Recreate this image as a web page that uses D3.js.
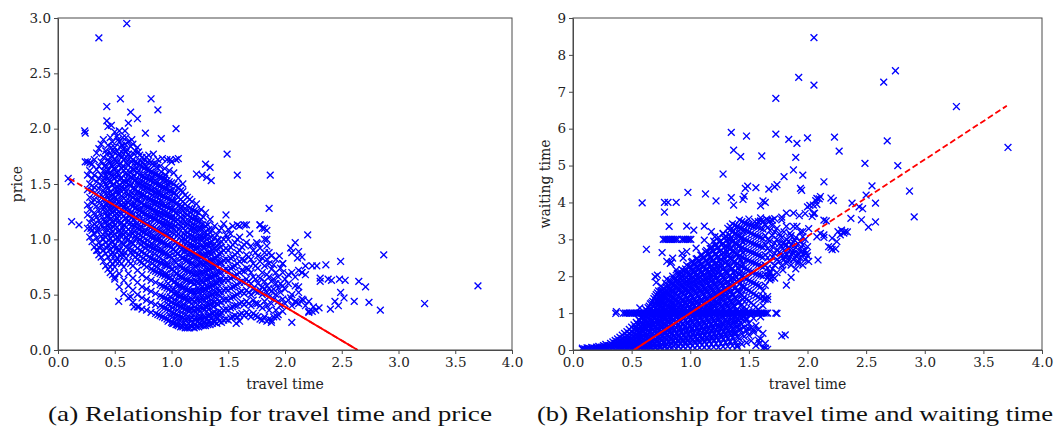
<!DOCTYPE html>
<html><head><meta charset="utf-8">
<script src="https://cdn.jsdelivr.net/npm/d3@7"></script>
<style>body{margin:0;background:#fff}svg{display:block}</style>
</head><body>
<svg id="c" width="1058" height="433"></svg>
<script>
// ---------- DATA ----------
const xTicks = [0.0,0.5,1.0,1.5,2.0,2.5,3.0,3.5,4.0];
const priceTicks = [0.0,0.5,1.0,1.5,2.0,2.5,3.0];
const waitTicks = [0,1,2,3,4,5,6,7,8,9];
const captions = ["(a) Relationship for travel time and price","(b) Relationship for travel time and waiting time"];
const axisLabels = ["travel time","price","waiting time"];

// fitted lines: endpoints and solid section
const priceFitX = [0.10, 2.64], priceFitY = [1.55, 0.0], priceFitSolid = [0.27, 2.64];
const waitFitX = [0.52, 3.70], waitFitY = [0.0, 6.62], waitFitSolid = [0.52, 1.72];

// travel time vs price: scattered points [travel, price]
const priceOutliers = [[0.606,2.95],[0.36,2.82],[0.55,2.27],[0.82,2.27],[0.43,2.20],[0.88,2.17],[0.64,2.15],[0.70,2.09],[0.43,2.07],[0.47,2.03],[1.04,2.00],[0.235,1.98],[0.24,1.96],[0.77,1.96],[0.91,1.91],[0.59,1.98],[0.54,1.98],[0.57,1.92],[0.62,2.05],[1.06,1.73],[0.99,1.72],[1.49,1.77],[1.30,1.68],[1.22,1.59],[1.31,1.56],[1.34,1.65],[1.35,1.53],[1.27,1.58],[1.58,1.58],[1.87,1.58],[1.86,1.28],[0.09,1.55],[0.115,1.52],[0.12,1.16],[0.185,1.13],[0.24,1.70],[0.28,1.69],[0.29,1.10],[0.34,1.08],[0.36,0.93],[0.35,0.90],[0.46,0.75],[0.50,0.66],[0.535,0.44],[0.64,0.48],[0.67,0.39],[0.71,0.39],[2.20,1.04],[2.09,0.97],[2.12,0.89],[2.15,0.84],[2.87,0.86],[2.49,0.80],[3.70,0.58],[3.23,0.42],[2.84,0.36],[2.74,0.43],[2.71,0.57],[2.65,0.62],[2.53,0.63],[2.41,0.63],[2.31,0.65],[2.31,0.62],[2.61,0.44],[2.49,0.52],[2.52,0.47],[2.44,0.44],[2.40,0.37],[2.25,0.39],[2.24,0.35],[2.36,0.77],[2.28,0.76],[2.24,0.76],[2.18,0.76],[2.11,0.83],[2.12,0.57],[2.38,0.64],[2.48,0.64],[2.47,0.40],[2.30,0.38],[2.27,0.36],[2.06,0.25],[1.60,0.26],[1.57,0.24],[1.78,1.13],[1.82,1.10],[1.84,1.00],[1.75,0.97],[1.98,0.78],[2.05,0.92],[1.95,0.85],[2.15,0.70],[2.05,0.47],[2.10,0.43],[2.16,0.45],[2.21,0.35],[1.93,0.30],[1.88,0.27],[1.66,1.13],[1.60,1.12],[1.69,1.05]];

// dense cloud: [travel, [prices at that travel time]]
const priceCloud = [
[0.26,[1.10,1.22,1.31,1.45,1.58,1.70]],
[0.28,[1.02,1.15,1.27,1.38,1.50,1.62]],
[0.30,[0.98,1.08,1.19,1.33,1.44,1.55,1.68]],
[0.32,[0.93,1.05,1.14,1.24,1.36,1.47,1.58,1.72]],
[0.34,[0.90,1.01,1.12,1.20,1.30,1.41,1.52,1.63,1.78]],
[0.36,[0.86,0.97,1.08,1.17,1.26,1.35,1.46,1.55,1.66,1.82]],
[0.38,[0.84,0.94,1.03,1.13,1.22,1.31,1.40,1.49,1.58,1.70,1.86]],
[0.40,[0.80,0.90,1.00,1.10,1.18,1.27,1.36,1.44,1.53,1.62,1.74,1.90]],
[0.42,[0.76,0.87,0.97,1.06,1.15,1.24,1.32,1.41,1.50,1.58,1.67,1.80]],
[0.44,[0.73,0.84,0.95,1.04,1.12,1.21,1.29,1.38,1.46,1.55,1.63,1.72,1.85,2.02]],
[0.46,[0.70,0.80,0.91,1.01,1.10,1.18,1.27,1.35,1.43,1.52,1.60,1.69,1.78,1.92]],
[0.48,[0.68,0.78,0.88,0.98,1.07,1.16,1.24,1.32,1.41,1.49,1.57,1.66,1.75,1.88]],
[0.50,[0.64,0.75,0.86,0.95,1.05,1.13,1.22,1.30,1.38,1.46,1.55,1.63,1.72,1.83,1.97]],
[0.52,[0.83,0.93,1.02,1.11,1.19,1.27,1.36,1.44,1.52,1.60,1.69,1.80,1.93]],
[0.54,[0.57,0.69,0.80,0.90,1.00,1.08,1.17,1.25,1.33,1.41,1.49,1.58,1.67,1.77,1.88]],
[0.56,[0.78,0.88,0.97,1.06,1.15,1.23,1.31,1.39,1.47,1.55,1.64,1.74,1.85]],
[0.58,[0.51,0.63,0.75,0.85,0.95,1.04,1.13,1.21,1.29,1.37,1.45,1.53,1.62,1.72,1.82]],
[0.60,[0.83,0.93,1.02,1.11,1.19,1.27,1.35,1.43,1.51,1.60,1.69,1.79,1.92]],
[0.62,[0.47,0.58,0.69,0.80,0.91,1.00,1.09,1.17,1.25,1.33,1.41,1.50,1.58,1.67,1.77,1.88]],
[0.64,[0.78,0.88,0.98,1.07,1.15,1.23,1.31,1.39,1.48,1.56,1.65,1.74,1.84]],
[0.66,[0.43,0.54,0.65,0.76,0.86,0.96,1.05,1.13,1.22,1.30,1.38,1.46,1.55,1.63,1.72,1.86]],
[0.68,[0.84,0.94,1.03,1.12,1.20,1.28,1.36,1.45,1.53,1.62,1.70,1.80]],
[0.70,[0.39,0.50,0.61,0.72,0.82,0.92,1.01,1.10,1.19,1.27,1.35,1.43,1.52,1.60,1.69,1.83]],
[0.72,[0.80,0.90,1.00,1.09,1.17,1.26,1.34,1.42,1.50,1.58,1.67,1.76]],
[0.74,[0.37,0.47,0.57,0.68,0.79,0.89,0.98,1.07,1.16,1.24,1.33,1.41,1.49,1.57,1.66,1.74]],
[0.76,[0.77,0.87,0.97,1.06,1.15,1.23,1.31,1.40,1.48,1.56,1.64,1.72]],
[0.78,[0.36,0.45,0.55,0.65,0.75,0.86,0.95,1.05,1.14,1.22,1.30,1.38,1.47,1.55,1.63,1.74]],
[0.80,[0.84,0.94,1.03,1.12,1.21,1.29,1.37,1.46,1.54,1.62,1.76]],
[0.82,[0.34,0.43,0.53,0.63,0.73,0.83,0.93,1.02,1.11,1.20,1.28,1.36,1.44,1.53,1.61,1.70]],
[0.84,[0.72,0.82,0.92,1.01,1.10,1.19,1.27,1.35,1.43,1.52,1.60,1.77]],
[0.86,[0.33,0.41,0.51,0.61,0.71,0.81,0.91,1.00,1.09,1.18,1.26,1.34,1.42,1.50,1.59,1.68]],
[0.88,[0.32,0.70,0.80,0.90,0.99,1.08,1.17,1.25,1.33,1.41,1.49,1.58,1.72]],
[0.90,[0.31,0.40,0.49,0.59,0.69,0.79,0.89,0.98,1.07,1.16,1.24,1.32,1.40,1.48,1.57,1.66]],
[0.92,[0.30,0.39,0.48,0.58,0.68,0.78,0.88,0.97,1.06,1.15,1.23,1.31,1.39,1.47,1.56,1.73]],
[0.94,[0.29,0.38,0.47,0.57,0.67,0.77,0.87,0.96,1.05,1.14,1.22,1.30,1.38,1.46,1.55,1.64]],
[0.96,[0.28,0.37,0.46,0.56,0.66,0.76,0.86,0.95,1.04,1.13,1.21,1.29,1.37,1.45,1.53,1.72]],
[0.98,[0.27,0.36,0.45,0.55,0.65,0.75,0.85,0.94,1.03,1.12,1.20,1.28,1.36,1.44,1.52,1.62]],
[1.00,[0.25,0.34,0.43,0.53,0.63,0.73,0.83,0.93,1.02,1.11,1.19,1.27,1.35,1.43,1.51,1.70]],
[1.02,[0.24,0.33,0.42,0.51,0.61,0.71,0.81,0.91,1.00,1.09,1.18,1.26,1.34,1.42,1.50,1.60]],
[1.04,[0.23,0.32,0.41,0.50,0.59,0.69,0.79,0.89,0.98,1.07,1.16,1.24,1.32,1.40,1.48,1.72]],
[1.06,[0.22,0.31,0.40,0.49,0.58,0.67,0.77,0.87,0.96,1.05,1.14,1.22,1.30,1.38,1.47,1.55]],
[1.08,[0.21,0.30,0.39,0.48,0.57,0.66,0.75,0.85,0.94,1.03,1.12,1.20,1.28,1.36,1.44]],
[1.10,[0.21,0.29,0.38,0.47,0.56,0.65,0.74,0.83,0.92,1.01,1.10,1.18,1.26,1.34,1.43,1.50]],
[1.12,[0.20,0.28,0.37,0.46,0.55,0.64,0.73,0.82,0.91,1.00,1.08,1.16,1.24,1.32,1.40]],
[1.14,[0.20,0.28,0.36,0.45,0.54,0.63,0.72,0.81,0.90,0.98,1.06,1.14,1.22,1.30,1.38]],
[1.16,[0.20,0.28,0.36,0.44,0.53,0.62,0.71,0.80,0.88,0.96,1.04,1.12,1.20,1.28,1.36]],
[1.18,[0.21,0.29,0.37,0.45,0.53,0.62,0.70,0.79,0.87,0.95,1.03,1.11,1.19,1.27,1.34]],
[1.20,[0.20,0.28,0.36,0.44,0.52,0.60,0.69,0.77,0.86,0.94,1.02,1.10,1.18,1.26]],
[1.22,[0.21,0.29,0.37,0.45,0.53,0.61,0.69,0.77,0.85,0.93,1.01,1.09,1.17,1.25,1.32]],
[1.24,[0.21,0.29,0.37,0.45,0.53,0.61,0.69,0.77,0.85,0.93,1.01,1.09,1.16,1.24]],
[1.26,[0.22,0.30,0.38,0.46,0.54,0.62,0.70,0.78,0.86,0.94,1.02,1.10,1.18,1.27]],
[1.28,[0.22,0.30,0.38,0.46,0.54,0.62,0.70,0.78,0.86,0.94,1.02,1.10,1.20]],
[1.30,[0.22,0.30,0.39,0.47,0.55,0.63,0.71,0.79,0.87,0.95,1.03,1.12,1.24]],
[1.32,[0.23,0.31,0.40,0.48,0.56,0.64,0.72,0.80,0.88,0.96,1.04,1.13]],
[1.34,[0.23,0.32,0.41,0.49,0.57,0.65,0.73,0.81,0.89,0.97,1.06,1.18]],
[1.36,[0.24,0.33,0.42,0.50,0.58,0.66,0.74,0.82,0.90,0.98,1.08]],
[1.38,[0.25,0.34,0.43,0.51,0.59,0.67,0.75,0.83,0.92,1.01,1.12]],
[1.40,[0.24,0.33,0.42,0.51,0.60,0.68,0.76,0.85,0.94,1.04]],
[1.42,[0.26,0.35,0.44,0.53,0.62,0.70,0.78,0.87,0.96,1.08]],
[1.44,[0.25,0.34,0.43,0.52,0.61,0.70,0.79,0.88,0.98,1.10]],
[1.46,[0.27,0.36,0.45,0.54,0.63,0.72,0.81,0.90,1.00,1.14]],
[1.48,[0.28,0.37,0.46,0.55,0.64,0.73,0.82,0.92,1.04,1.22]],
[1.50,[0.27,0.36,0.45,0.54,0.63,0.72,0.81,0.90,1.00,1.09]],
[1.52,[0.29,0.38,0.47,0.56,0.65,0.74,0.83,0.93,1.05]],
[1.54,[0.30,0.39,0.48,0.57,0.66,0.75,0.84,0.95,1.12]],
[1.56,[0.31,0.40,0.49,0.58,0.67,0.76,0.86,0.97]],
[1.58,[0.30,0.40,0.50,0.59,0.68,0.78,0.88,1.00,1.13]],
[1.60,[0.32,0.42,0.52,0.61,0.70,0.80,0.90,1.02]],
[1.62,[0.33,0.43,0.53,0.62,0.72,0.82,0.93]],
[1.64,[0.31,0.41,0.51,0.61,0.71,0.81,0.95,1.13]],
[1.66,[0.34,0.44,0.54,0.64,0.74,0.86,0.97]],
[1.68,[0.32,0.42,0.52,0.62,0.73,0.84]],
[1.70,[0.30,0.40,0.50,0.60,0.70,0.82,0.94]],
[1.72,[0.33,0.45,0.55,0.66,0.78,0.90]],
[1.74,[0.31,0.42,0.53,0.64,0.76,0.88]],
[1.76,[0.30,0.42,0.52,0.60,0.74,0.85,0.96]],
[1.78,[0.28,0.40,0.54,0.65,0.80,0.92,1.13]],
[1.80,[0.27,0.38,0.50,0.57,0.70,0.83,1.10]],
[1.82,[0.30,0.44,0.55,0.62,0.76,0.88,1.00]],
[1.84,[0.26,0.40,0.52,0.58,0.68,0.82,0.94,1.08]],
[1.86,[0.28,0.36,0.48,0.56,0.66,0.78,0.88]],
[1.88,[0.25,0.42,0.53,0.62,0.73,0.85]],
[1.90,[0.30,0.46,0.55,0.64,0.77]],
[1.92,[0.36,0.50,0.60,0.70,0.82]],
[1.94,[0.32,0.44,0.56,0.66]],
[1.96,[0.40,0.52,0.60,0.74]],
[1.98,[0.35,0.46,0.58,0.70,0.78]],
[2.00,[0.42,0.55,0.64]],
[2.03,[0.45,0.60,0.68]],
[2.06,[0.40,0.50,0.70,0.88]],
[2.09,[0.44,0.58,0.66]],
[2.12,[0.42,0.52,0.72]],
[2.15,[0.46,0.70]],
[2.18,[0.40,0.68]],
[2.21,[0.34,0.44]]
];

// extra trips filling the two densest lobes
const priceFill = [
[0.41,[1.03,1.16,1.29,1.37,1.55,1.66]],
[0.43,[0.92,1.09,1.21,1.33,1.48,1.61,1.77]],
[0.45,[0.99,1.14,1.24,1.41,1.53,1.70]],
[0.47,[0.86,1.05,1.19,1.30,1.39,1.58,1.67,1.83]],
[0.49,[0.93,1.11,1.26,1.35,1.50,1.64,1.79]],
[0.51,[0.80,1.00,1.17,1.28,1.42,1.57,1.71]],
[0.53,[0.90,1.07,1.22,1.34,1.47,1.62,1.76,1.90]],
[0.55,[0.85,1.03,1.14,1.31,1.44,1.55,1.69,1.83]],
[0.57,[0.96,1.10,1.26,1.38,1.51,1.66,1.78]],
[0.59,[0.88,1.06,1.19,1.32,1.46,1.59,1.73,1.86]],
[0.61,[0.99,1.15,1.28,1.40,1.54,1.68,1.81]],
[0.63,[0.92,1.04,1.21,1.35,1.49,1.61,1.75]],
[0.65,[0.97,1.12,1.25,1.42,1.56,1.70,1.90]],
[0.67,[0.89,1.07,1.18,1.33,1.47,1.63,1.77]],
[0.69,[1.00,1.14,1.29,1.41,1.55,1.68]],
[0.71,[0.86,1.05,1.22,1.36,1.49,1.62,1.79]],
[0.73,[0.95,1.11,1.27,1.39,1.53,1.71]],
[0.75,[0.83,1.02,1.17,1.31,1.45,1.58,1.69]],
[0.77,[0.92,1.08,1.24,1.37,1.51,1.66]],
[0.79,[0.80,0.99,1.14,1.29,1.43,1.57,1.70]],
[0.81,[0.89,1.06,1.20,1.35,1.48,1.63]],
[0.83,[0.78,0.96,1.12,1.26,1.40,1.55,1.68]],
[0.85,[0.87,1.03,1.18,1.32,1.46,1.59]],
[0.87,[0.75,0.94,1.09,1.23,1.38,1.52,1.65]],
[0.89,[0.84,1.01,1.15,1.29,1.43,1.56]],
[0.91,[0.72,0.91,1.06,1.20,1.35,1.49,1.61]],
[0.93,[0.81,0.98,1.12,1.26,1.40,1.53]],
[0.95,[0.69,0.88,1.04,1.17,1.31,1.46,1.58]],
[0.97,[0.26,0.41,0.60,0.78,0.95,1.09,1.23,1.38,1.50]],
[0.99,[0.31,0.48,0.66,0.85,1.01,1.14,1.29,1.44]],
[1.01,[0.24,0.38,0.55,0.73,0.91,1.06,1.21,1.35]],
[1.03,[0.29,0.45,0.62,0.80,0.97,1.12,1.27,1.42]],
[1.05,[0.23,0.36,0.52,0.69,0.87,1.03,1.18,1.33]],
[1.07,[0.27,0.43,0.59,0.76,0.93,1.09,1.25]],
[1.09,[0.22,0.34,0.50,0.66,0.83,0.99,1.15,1.30]],
[1.11,[0.25,0.41,0.57,0.72,0.89,1.05,1.21]],
[1.13,[0.21,0.32,0.48,0.63,0.80,0.96,1.12,1.27]],
[1.15,[0.24,0.39,0.55,0.70,0.86,1.02,1.17]],
[1.17,[0.22,0.33,0.47,0.61,0.77,0.93,1.08,1.24]],
[1.19,[0.25,0.40,0.54,0.68,0.84,0.99,1.14]],
[1.21,[0.23,0.34,0.49,0.63,0.75,0.91,1.06,1.20]],
[1.23,[0.26,0.41,0.56,0.70,0.82,0.97,1.12]],
[1.25,[0.24,0.35,0.50,0.65,0.79,0.89,1.04,1.17]],
[1.27,[0.27,0.42,0.57,0.71,0.84,0.99,1.13]],
[1.29,[0.25,0.36,0.51,0.66,0.77,0.92,1.06]],
[1.31,[0.28,0.43,0.58,0.73,0.85,1.00]],
[1.33,[0.26,0.37,0.52,0.67,0.79,0.94,1.09]],
[1.35,[0.29,0.45,0.60,0.75,0.87,1.02]],
[1.37,[0.27,0.39,0.54,0.69,0.81,0.95]],
[1.39,[0.30,0.47,0.62,0.77,0.90]],
[1.41,[0.29,0.41,0.56,0.71,0.84,0.99]],
[1.43,[0.32,0.49,0.64,0.79,0.93]]
];

// travel time vs waiting time: scattered points [travel, waiting]
const waitOutliers = [[2.055,8.47],[1.925,7.39],[2.055,7.18],[1.73,6.82],[2.65,7.26],[2.75,7.57],[3.27,6.60],[3.71,5.49],[1.35,5.90],[1.48,5.80],[1.73,5.85],[2.00,5.75],[2.23,5.77],[2.68,5.67],[1.84,5.71],[1.91,5.60],[1.37,5.42],[1.43,5.24],[1.61,5.26],[1.90,5.22],[2.27,5.39],[2.49,5.06],[2.77,5.00],[1.88,4.88],[1.96,4.74],[1.80,4.70],[1.28,4.77],[2.14,4.56],[1.94,4.38],[1.95,4.33],[1.74,4.48],[1.49,4.44],[1.47,4.38],[1.56,4.40],[1.67,4.36],[1.72,4.42],[2.55,4.45],[2.50,4.20],[2.87,4.31],[2.91,3.61],[0.98,4.27],[1.13,4.23],[1.22,4.04],[1.35,4.13],[1.37,3.93],[1.45,4.08],[1.46,4.17],[1.60,3.91],[1.64,4.00],[1.62,4.04],[0.59,3.99],[0.78,4.0],[0.81,4.0],[0.88,4.0],[0.78,3.74],[2.07,4.05],[2.08,3.95],[2.10,4.10],[2.00,3.88],[1.98,3.70],[2.20,4.12],[2.22,4.05],[2.38,3.98],[2.44,3.88],[2.47,3.83],[2.58,3.98],[2.58,3.47],[2.52,3.33],[2.46,3.53],[2.37,3.57],[2.34,3.20],[2.31,3.17],[2.28,3.12],[2.25,2.94],[2.24,2.74],[2.16,3.50],[2.02,3.92],[2.05,3.70],[1.93,3.64],[2.01,3.29],[2.14,3.12],[2.14,3.05],[2.20,2.78],[2.21,2.72],[0.626,2.73],[0.365,0.99],[1.73,1.0],[1.74,0.99],[1.78,0.38],[1.82,1.76],[1.86,1.97],[1.63,1.38],[1.66,1.37],[2.01,2.40],[2.09,2.44],[2.08,3.07],[2.11,3.16],[2.14,3.52],[2.18,2.80],[2.21,3.03],[2.26,3.21],[2.29,3.25],[2.32,3.21],[2.04,3.62],[2.06,3.71],[2.05,3.93],[2.08,4.11],[2.11,4.16],[1.79,2.89],[1.82,2.85],[1.85,2.71],[1.88,2.62],[1.91,2.53],[1.92,2.35],[1.84,2.44],[1.81,2.53],[1.95,2.67],[1.89,2.98],[1.85,3.16],[1.96,3.21],[1.91,3.35],[1.88,3.71],[1.82,3.71],[1.78,3.53],[1.96,3.07],[1.99,2.62],[1.79,2.17],[1.67,2.02],[1.69,1.95],[1.68,2.08],[0.82,3.35],[0.97,3.36],[1.03,3.25],[1.12,3.36],[1.18,3.21],[1.12,2.98],[0.97,2.67],[0.93,2.62],[0.85,2.49],[0.80,2.40],[0.83,2.35],[0.70,1.99],[0.71,1.83],[0.80,1.92],[0.76,2.64],[0.88,2.17],[0.94,2.49],[1.05,2.76],[1.21,3.07],[1.28,3.16],[1.34,3.35],[1.31,2.98],[1.18,2.76],[0.84,2.38],[0.72,2.03],[0.37,1.04],[0.57,1.14],[0.75,1.60],[0.78,1.45],[0.53,0.60],[1.45,0.81],[1.49,0.59],[1.54,0.54],[1.59,0.18],[1.62,0.45],[1.37,0.45],[1.34,0.23],[1.40,0.09],[1.64,0.05],[1.58,0.27],[1.48,0.86],[1.81,0.41],[1.62,1.45],[1.50,3.55],[1.55,3.48],[1.60,3.58],[1.65,3.55],[1.70,3.52]];

// rows of trips with exactly 1 and 3 units of waiting time
const waitBandOneX = [0.43,0.447,0.46,0.478,0.49,0.506,0.52,0.537,0.55,0.566,0.58,0.594,0.61,0.627,0.64,0.655,0.67,0.686,0.70,0.714,0.73,0.746,0.76,0.774,0.79,0.806,0.82,0.833,0.85,0.866,0.88,0.894,0.91,0.926,0.94,0.953,0.97,0.986,1.00,1.014,1.03,1.046,1.06,1.073,1.09,1.106,1.12,1.134,1.15,1.167,1.18,1.193,1.21,1.226,1.24,1.254,1.27,1.287,1.30,1.313,1.33,1.346,1.36,1.374,1.39,1.407,1.42,1.433,1.45,1.466,1.48,1.494,1.51,1.527,1.54,1.553,1.57,1.586,1.60,1.613,1.63,1.647,1.66];
const waitBandThreeX = [0.77,0.785,0.80,0.815,0.83,0.845,0.86,0.875,0.89,0.93,0.945,0.96,0.975,0.99,1.005];

// dense cloud: [travel, [waiting times at that travel time]]
const waitCloud = [
[0.08,[0.02,0.05]],[0.10,[0.03]],[0.12,[0.02,0.06]],[0.14,[0.04]],[0.16,[0.02,0.07]],[0.18,[0.05]],
[0.20,[0.03,0.08]],[0.22,[0.05,0.10]],[0.24,[0.02,0.08]],[0.26,[0.04,0.12]],[0.28,[0.02,0.09,0.15]],
[0.30,[0.05,0.12]],[0.32,[0.03,0.10,0.18]],[0.34,[0.06,0.14,0.22]],[0.36,[0.02,0.10,0.18,0.26]],
[0.38,[0.05,0.13,0.22,0.30]],[0.40,[0.02,0.09,0.17,0.26,0.35]],[0.42,[0.05,0.13,0.21,0.30,0.40]],
[0.44,[0.02,0.09,0.17,0.25,0.34,0.45]],[0.46,[0.05,0.13,0.21,0.30,0.39,0.50]],
[0.48,[0.02,0.09,0.17,0.26,0.35,0.45,0.56]],[0.50,[0.05,0.13,0.22,0.31,0.40,0.50,0.62]],
[0.52,[0.02,0.10,0.18,0.27,0.36,0.46,0.56,0.68]],[0.54,[0.05,0.14,0.23,0.32,0.42,0.52,0.62,0.75]],
[0.56,[0.02,0.10,0.19,0.28,0.38,0.48,0.58,0.68,0.82]],[0.58,[0.06,0.15,0.24,0.34,0.44,0.54,0.64,0.75,0.88]],
[0.60,[0.02,0.11,0.20,0.30,0.40,0.50,0.60,0.71,0.82,0.95]],
[0.62,[0.06,0.15,0.25,0.35,0.46,0.57,0.68,0.80,0.92,1.10]],
[0.64,[0.02,0.11,0.21,0.31,0.41,0.52,0.63,0.74,0.86,1.00,1.15]],
[0.66,[0.06,0.16,0.26,0.37,0.48,0.59,0.70,0.82,0.94,1.08,1.25]],
[0.68,[0.02,0.12,0.22,0.33,0.44,0.55,0.66,0.78,0.90,1.04,1.18,1.32]],
[0.70,[0.07,0.17,0.28,0.39,0.50,0.62,0.74,0.86,0.98,1.12,1.26,1.45]],
[0.72,[0.03,0.13,0.24,0.35,0.46,0.58,0.70,0.82,0.95,1.08,1.22,1.36,1.55]],
[0.74,[0.08,0.19,0.30,0.42,0.54,0.66,0.78,0.91,1.04,1.18,1.32,1.48]],
[0.76,[0.03,0.14,0.26,0.38,0.50,0.62,0.75,0.88,1.01,1.15,1.29,1.44,1.62]],
[0.78,[0.09,0.21,0.33,0.45,0.58,0.71,0.84,0.97,1.11,1.25,1.40,1.56]],
[0.80,[0.04,0.16,0.28,0.41,0.54,0.67,0.80,0.94,1.08,1.22,1.36,1.52,1.70]],
[0.82,[0.10,0.23,0.36,0.49,0.62,0.76,0.90,1.04,1.18,1.33,1.48,1.64,1.85]],
[0.84,[0.05,0.18,0.31,0.44,0.58,0.72,0.86,1.00,1.15,1.30,1.45,1.60,1.78]],
[0.86,[0.11,0.25,0.39,0.53,0.67,0.82,0.97,1.12,1.27,1.42,1.58,1.74,1.92]],
[0.88,[0.04,0.18,0.32,0.46,0.61,0.76,0.91,1.06,1.21,1.37,1.53,1.69,1.86]],
[0.90,[0.10,0.24,0.39,0.54,0.69,0.84,0.99,1.15,1.31,1.47,1.63,1.80,2.00]],
[0.92,[0.03,0.17,0.32,0.47,0.62,0.77,0.93,1.09,1.25,1.41,1.57,1.74,1.92,2.10]],
[0.94,[0.10,0.25,0.40,0.55,0.71,0.87,1.03,1.19,1.35,1.52,1.69,1.86,2.05]],
[0.96,[0.04,0.18,0.33,0.48,0.64,0.80,0.96,1.12,1.29,1.46,1.63,1.80,1.98,2.20]],
[0.98,[0.11,0.26,0.41,0.57,0.73,0.89,1.06,1.23,1.40,1.57,1.74,1.92,2.12]],
[1.00,[0.04,0.19,0.34,0.50,0.66,0.82,0.99,1.16,1.33,1.50,1.68,1.86,2.05,2.26]],
[1.02,[0.12,0.27,0.43,0.59,0.75,0.92,1.09,1.26,1.44,1.62,1.80,1.98,2.18,2.40]],
[1.04,[0.05,0.20,0.36,0.52,0.68,0.85,1.02,1.20,1.38,1.56,1.74,1.92,2.12,2.32]],
[1.06,[0.13,0.29,0.45,0.61,0.78,0.95,1.13,1.31,1.49,1.67,1.86,2.05,2.25,2.48]],
[1.08,[0.06,0.22,0.38,0.54,0.71,0.88,1.06,1.24,1.42,1.61,1.80,1.99,2.19,2.40]],
[1.10,[0.14,0.30,0.47,0.64,0.81,0.99,1.17,1.35,1.54,1.73,1.92,2.12,2.33,2.58]],
[1.12,[0.07,0.23,0.40,0.57,0.74,0.92,1.10,1.28,1.47,1.66,1.86,2.06,2.27,2.50]],
[1.14,[0.15,0.32,0.49,0.67,0.85,1.03,1.21,1.40,1.59,1.79,1.99,2.20,2.42,2.70]],
[1.16,[0.06,0.24,0.42,0.60,0.78,0.96,1.14,1.33,1.52,1.72,1.92,2.13,2.35,2.60]],
[1.18,[0.16,0.34,0.52,0.70,0.89,1.08,1.27,1.46,1.66,1.86,2.07,2.28,2.50,2.80]],
[1.20,[0.08,0.26,0.44,0.62,0.81,1.00,1.19,1.39,1.59,1.79,2.00,2.22,2.44,2.68,2.95]],
[1.22,[0.17,0.36,0.55,0.74,0.93,1.12,1.32,1.52,1.72,1.93,2.15,2.37,2.60,2.86]],
[1.24,[0.07,0.27,0.47,0.66,0.86,1.06,1.26,1.46,1.66,1.87,2.08,2.30,2.53,2.78,3.05]],
[1.26,[0.18,0.38,0.58,0.78,0.98,1.18,1.39,1.60,1.81,2.02,2.24,2.46,2.70,2.95]],
[1.28,[0.09,0.29,0.50,0.70,0.91,1.12,1.33,1.54,1.75,1.97,2.19,2.41,2.64,2.88,3.15]],
[1.30,[0.20,0.41,0.62,0.83,1.04,1.26,1.47,1.69,1.91,2.13,2.36,2.59,2.82,3.08]],
[1.32,[0.10,0.31,0.53,0.75,0.97,1.19,1.41,1.63,1.85,2.08,2.31,2.54,2.78,3.02,3.30]],
[1.34,[0.22,0.44,0.66,0.88,1.10,1.33,1.56,1.79,2.02,2.25,2.49,2.73,2.98,3.25]],
[1.36,[0.11,0.34,0.57,0.80,1.03,1.27,1.50,1.73,1.97,2.21,2.45,2.69,2.94,3.20,3.42]],
[1.38,[0.24,0.47,0.70,0.94,1.18,1.42,1.66,1.90,2.14,2.39,2.64,2.90,3.15,3.38]],
[1.40,[0.13,0.37,0.61,0.85,1.10,1.35,1.60,1.85,2.10,2.35,2.60,2.86,3.12,3.35]],
[1.42,[0.30,0.55,0.80,1.05,1.30,1.55,1.80,2.05,2.30,2.56,2.82,3.08,3.32,3.52]],
[1.44,[0.16,0.44,0.70,0.97,1.22,1.48,1.74,2.00,2.26,2.52,2.78,3.04,3.30,3.48]],
[1.46,[0.36,0.62,0.90,1.16,1.43,1.70,1.96,2.22,2.48,2.74,3.00,3.26,3.45]],
[1.48,[0.20,0.52,0.82,1.10,1.38,1.65,1.92,2.18,2.45,2.71,2.97,3.22,3.42]],
[1.50,[0.40,0.72,1.04,1.33,1.61,1.88,2.15,2.42,2.68,2.94,3.20,3.40]],
[1.52,[0.25,0.60,0.95,1.28,1.57,1.85,2.12,2.39,2.65,2.91,3.16,3.38]],
[1.54,[0.48,0.86,1.22,1.52,1.82,2.10,2.37,2.63,2.88,3.13,3.36]],
[1.56,[0.12,0.66,1.16,1.48,1.78,2.06,2.34,2.60,2.86,3.10,3.35]],
[1.58,[0.55,1.10,1.44,1.75,2.04,2.31,2.57,2.83,3.08,3.34,3.48]],
[1.60,[0.30,0.90,1.40,1.72,2.02,2.28,2.54,2.80,3.05,3.30,3.50]],
[1.62,[0.05,1.20,1.60,2.00,2.25,2.52,2.78,3.02,3.28,3.48]],
[1.64,[0.18,1.38,1.75,2.05,2.30,2.58,2.86,3.10,3.40]],
[1.66,[0.02,1.45,1.95,2.22,2.50,2.75,3.00,3.32,3.52]],
[1.68,[1.90,2.12,2.40,2.68,2.96,3.24,3.50]],
[1.70,[2.00,2.20,2.52,2.80,3.10,3.38]],
[1.72,[1.95,2.30,2.62,2.90,3.20,3.56]],
[1.74,[2.10,2.45,2.72,3.00,3.30]],
[1.76,[2.40,2.65,2.88,3.15]],
[1.78,[2.28,2.55,2.80,3.05,3.60]],
[1.80,[2.45,2.70,2.92,3.20]],
[1.82,[2.35,2.60,2.85,3.00,3.35]],
[1.84,[2.50,2.75,2.95]],
[1.86,[2.30,2.60,2.85,3.10]],
[1.88,[2.45,2.70,2.92,3.35]],
[1.90,[2.20,2.55,2.78,3.05]],
[1.92,[2.40,2.62,2.88]],
[1.94,[2.50,2.75,2.95,3.20]],
[1.96,[2.30,2.60,2.85]],
[1.98,[2.45,2.70,3.00]],
[2.00,[2.55,2.80]]
];

// extra trips filling the densest part of the waiting-time cloud
const waitFill = [
[0.55,[0.04,0.21,0.37,0.55,0.71]],
[0.57,[0.12,0.29,0.46,0.63,0.80]],
[0.59,[0.03,0.19,0.35,0.52,0.70,0.86]],
[0.61,[0.10,0.27,0.44,0.61,0.79,0.97]],
[0.63,[0.05,0.22,0.39,0.57,0.74,0.90,1.06]],
[0.65,[0.14,0.31,0.49,0.66,0.84,1.03,1.19]],
[0.67,[0.06,0.24,0.41,0.59,0.77,0.94,1.12,1.28]],
[0.69,[0.16,0.33,0.51,0.69,0.87,1.05,1.22,1.39]],
[0.71,[0.08,0.26,0.44,0.62,0.80,0.98,1.16,1.33,1.50]],
[0.73,[0.18,0.36,0.54,0.73,0.91,1.09,1.27,1.44,1.60]],
[0.75,[0.09,0.28,0.47,0.65,0.84,1.03,1.21,1.39,1.56,1.73]],
[0.77,[0.20,0.39,0.57,0.76,0.95,1.14,1.32,1.50,1.67]],
[0.79,[0.11,0.30,0.49,0.68,0.87,1.06,1.25,1.44,1.62,1.81]],
[0.81,[0.22,0.41,0.60,0.79,0.98,1.18,1.37,1.56,1.75]],
[0.83,[0.13,0.32,0.52,0.71,0.91,1.11,1.30,1.50,1.69,1.88]],
[0.85,[0.24,0.44,0.63,0.83,1.03,1.23,1.43,1.63,1.82,2.00]],
[0.87,[0.15,0.35,0.55,0.75,0.96,1.16,1.36,1.56,1.76,1.95]],
[0.89,[0.26,0.46,0.67,0.88,1.08,1.29,1.49,1.70,1.90,2.08]],
[0.91,[0.17,0.38,0.59,0.80,1.01,1.22,1.43,1.64,1.84,2.04]],
[0.93,[0.28,0.49,0.71,0.92,1.14,1.35,1.56,1.78,1.99,2.18]],
[0.95,[0.19,0.41,0.63,0.85,1.07,1.28,1.50,1.72,1.93,2.14]],
[0.97,[0.31,0.53,0.75,0.97,1.20,1.42,1.64,1.86,2.08,2.30]],
[0.99,[0.21,0.44,0.66,0.89,1.12,1.35,1.57,1.80,2.02,2.24]],
[1.01,[0.33,0.56,0.79,1.02,1.25,1.48,1.71,1.94,2.16,2.38]],
[1.03,[0.23,0.47,0.70,0.93,1.17,1.40,1.64,1.87,2.10,2.33]],
[1.05,[0.36,0.59,0.83,1.07,1.31,1.54,1.78,2.01,2.25,2.47]],
[1.07,[0.25,0.49,0.73,0.97,1.22,1.46,1.70,1.94,2.18,2.42]],
[1.09,[0.38,0.62,0.87,1.12,1.36,1.61,1.85,2.09,2.33,2.57]],
[1.11,[0.27,0.52,0.77,1.02,1.27,1.52,1.77,2.02,2.26,2.51]],
[1.13,[0.40,0.66,0.91,1.16,1.42,1.67,1.92,2.17,2.42,2.66]],
[1.15,[0.29,0.55,0.81,1.06,1.32,1.58,1.84,2.09,2.35,2.60]],
[1.17,[0.43,0.69,0.95,1.21,1.47,1.73,1.99,2.25,2.50,2.75]],
[1.19,[0.31,0.58,0.84,1.11,1.37,1.64,1.90,2.16,2.42,2.68]],
[1.21,[0.45,0.72,0.99,1.26,1.53,1.79,2.06,2.32,2.59,2.84]],
[1.23,[0.33,0.61,0.88,1.15,1.43,1.70,1.97,2.24,2.51,2.77]],
[1.25,[0.48,0.75,1.03,1.31,1.58,1.86,2.13,2.40,2.67,2.93]],
[1.27,[0.35,0.63,0.92,1.20,1.48,1.76,2.04,2.31,2.59,2.86]],
[1.29,[0.51,0.79,1.08,1.36,1.65,1.93,2.21,2.49,2.77,3.03]],
[1.31,[0.38,0.67,0.96,1.25,1.54,1.83,2.11,2.40,2.68,2.96]],
[1.33,[0.55,0.84,1.13,1.42,1.71,2.00,2.29,2.58,2.86,3.12]],
[1.35,[0.42,0.72,1.01,1.31,1.60,1.90,2.19,2.48,2.77,3.05]],
[1.37,[0.60,0.90,1.20,1.50,1.79,2.09,2.38,2.67,2.96,3.22]],
[1.39,[0.47,0.78,1.08,1.39,1.69,1.99,2.29,2.58,2.88,3.16]],
[1.41,[0.68,0.99,1.30,1.61,1.91,2.21,2.51,2.81,3.10]],
[1.43,[0.55,0.87,1.19,1.51,1.82,2.13,2.44,2.74,3.04,3.28]],
[1.45,[1.05,1.37,1.69,2.01,2.32,2.63,2.93,3.22]]
];

// ---------- DRAWING ----------
const svg = d3.select("#c");
const BLUE = "#0000ff", RED = "#ff0000", SPINE = "#4a4a4a";
const expand = cols => cols.flatMap(([x, ys]) => ys.map(y => [x, y]));

const pricePoints = priceOutliers.concat(expand(priceCloud), expand(priceFill));
const waitPoints = waitOutliers
  .concat(waitBandOneX.map(x => [x, 1]))
  .concat(waitBandThreeX.map(x => [x, 3]))
  .concat(expand(waitCloud), expand(waitFill));

function panel(cfg) {
  const g = svg.append("g");
  const x = d3.scaleLinear().domain([0, 4]).range([cfg.x0, cfg.x1]);
  const y = d3.scaleLinear().domain(cfg.yDomain).range([cfg.y1, cfg.y0]);

  const clipId = "clip" + cfg.id;
  svg.append("clipPath").attr("id", clipId).append("rect")
    .attr("x", cfg.x0).attr("y", cfg.y0).attr("width", cfg.x1 - cfg.x0).attr("height", cfg.y1 - cfg.y0);

  const plot = g.append("g").attr("clip-path", `url(#${clipId})`);
  const s = 3.4;
  plot.append("g").selectAll("path").data(cfg.points).join("path")
    .attr("transform", d => `translate(${x(d[0])},${y(d[1])})`)
    .attr("d", `M${-s},${-s}L${s},${s}M${-s},${s}L${s},${-s}`)
    .attr("stroke", BLUE).attr("stroke-width", 1.35).attr("fill", "none");

  const fy = xv => cfg.fitY[0] + (cfg.fitY[1] - cfg.fitY[0]) * (xv - cfg.fitX[0]) / (cfg.fitX[1] - cfg.fitX[0]);
  const line = d3.line().x(d => x(d)).y(d => y(fy(d)));
  plot.append("path").attr("d", line([cfg.fitX[0], cfg.fitX[1]]))
    .attr("stroke", RED).attr("stroke-width", 1.8).attr("fill", "none").attr("stroke-dasharray", "6,3");
  plot.append("path").attr("d", line([cfg.solid[0], cfg.solid[1]]))
    .attr("stroke", RED).attr("stroke-width", 1.8).attr("fill", "none");

  g.append("rect").attr("x", cfg.x0).attr("y", cfg.y0)
    .attr("width", cfg.x1 - cfg.x0).attr("height", cfg.y1 - cfg.y0)
    .attr("fill", "none").attr("stroke", SPINE).attr("stroke-width", 1);

  const tickFont = g => g.selectAll("text").attr("font-family", "'DejaVu Serif', serif").attr("font-size", 13.5).attr("fill", "#222");
  const ax = g.append("g").attr("transform", `translate(0,${cfg.y1})`)
    .call(d3.axisBottom(x).tickValues(xTicks).tickFormat(d3.format(".1f")).tickSize(4).tickPadding(3).tickSizeOuter(0));
  ax.select(".domain").attr("stroke", SPINE);
  ax.selectAll(".tick line").attr("stroke", SPINE);
  ax.call(tickFont);
  const ay = g.append("g").attr("transform", `translate(${cfg.x0},0)`)
    .call(d3.axisLeft(y).tickValues(cfg.yTicks).tickFormat(cfg.yFormat).tickSize(4).tickPadding(3).tickSizeOuter(0));
  ay.select(".domain").attr("stroke", SPINE);
  ay.selectAll(".tick line").attr("stroke", SPINE);
  ay.call(tickFont);

  g.append("text").text(axisLabels[0])
    .attr("x", (cfg.x0 + cfg.x1) / 2).attr("y", 389).attr("text-anchor", "middle")
    .attr("font-family", "'DejaVu Serif', serif").attr("font-size", 14).attr("fill", "#222");
  g.append("text").text(cfg.yLabel)
    .attr("transform", `translate(${cfg.yLabelX},${(cfg.y0 + cfg.y1) / 2}) rotate(-90)`)
    .attr("text-anchor", "middle").attr("dy", "0.35em")
    .attr("font-family", "'DejaVu Serif', serif").attr("font-size", 14).attr("fill", "#222");

  g.append("text").text(cfg.caption)
    .attr("x", cfg.capX).attr("y", 421)
    .attr("textLength", cfg.capW).attr("lengthAdjust", "spacingAndGlyphs")
    .attr("font-family", "'Liberation Serif', 'Times New Roman', serif").attr("font-size", 21).attr("fill", "#111");
}

panel({id: "a", x0: 58, x1: 512, y0: 18, y1: 350, yDomain: [0, 3], yTicks: priceTicks,
  yFormat: d3.format(".1f"), yLabel: axisLabels[1], yLabelX: 17, points: pricePoints,
  fitX: priceFitX, fitY: priceFitY, solid: priceFitSolid, caption: captions[0], capX: 48, capW: 444});
panel({id: "b", x0: 573, x1: 1042, y0: 18, y1: 350, yDomain: [0, 9], yTicks: waitTicks,
  yFormat: d3.format("d"), yLabel: axisLabels[2], yLabelX: 545, points: waitPoints,
  fitX: waitFitX, fitY: waitFitY, solid: waitFitSolid, caption: captions[1], capX: 537, capW: 516});
</script>
</body></html>
